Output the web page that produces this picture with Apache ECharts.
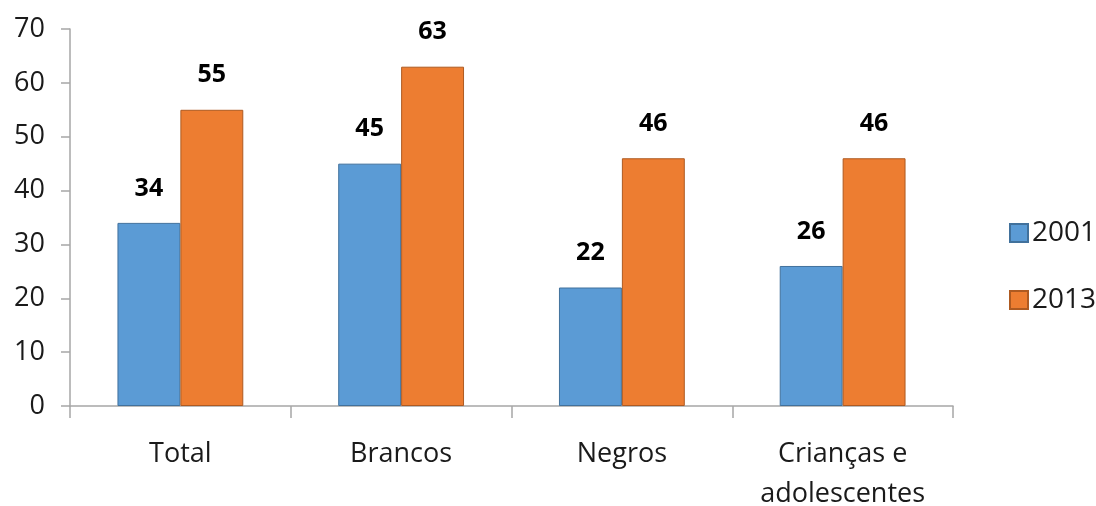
<!DOCTYPE html>
<html>
<head>
<meta charset="utf-8">
<script src="https://cdn.jsdelivr.net/npm/echarts@6/dist/echarts.min.js"></script>
<style>
  html, body { margin: 0; padding: 0; background: #ffffff; }
  #chart { width: 1096px; height: 506px; }
</style>
</head>
<body>
<div id="chart"></div>
<script>
// Categories along the x axis
const categories = ['Total', 'Brancos', 'Negros', 'Crianças e\nadolescentes'];
// Values per year
const values2001 = [34, 45, 22, 26];
const values2013 = [55, 63, 46, 46];
// Series names shown in the legend
const seriesNames = ['2001', '2013'];
// Y axis range
const yMin = 0, yMax = 70, yStep = 10;

const FONT = '"Open Sans", "Liberation Sans", sans-serif';
const AXIS_GRAY = '#a6a6a6';

const chart = echarts.init(document.getElementById('chart'), null, { renderer: 'canvas' });

const valueLabel = {
  show: true,
  position: 'top',
  distance: 22,
  fontFamily: FONT,
  fontSize: 25,
  fontWeight: 'bold',
  color: '#000000'
};

chart.setOption({
  animation: false,
  backgroundColor: '#ffffff',
  grid: { left: 70, right: 143, top: 29, bottom: 100, containLabel: false, outerBoundsMode: 'none' },
  legend: {
    orient: 'vertical',
    left: 1004,
    top: 214,
    icon: 'rect',
    itemWidth: 18,
    itemHeight: 18,
    itemGap: 39,
    textStyle: { fontFamily: FONT, fontSize: 28, color: '#1a1a1a', padding: [0, 0, 0, -1] },
    data: seriesNames
  },
  xAxis: {
    type: 'category',
    data: categories,
    axisLine: { show: true, lineStyle: { color: AXIS_GRAY, width: 1.5 } },
    axisTick: { show: true, length: 12, lineStyle: { color: AXIS_GRAY, width: 1.5 } },
    axisLabel: {
      margin: 28,
      fontFamily: FONT,
      fontSize: 27,
      lineHeight: 40,
      color: '#1a1a1a'
    },
    splitLine: { show: false }
  },
  yAxis: {
    type: 'value',
    min: yMin,
    max: yMax,
    interval: yStep,
    axisLine: { show: true, lineStyle: { color: AXIS_GRAY, width: 1.5 } },
    axisTick: { show: true, length: 9, lineStyle: { color: AXIS_GRAY, width: 1.5 } },
    axisLabel: {
      margin: 25,
      fontFamily: FONT,
      fontSize: 27,
      color: '#1a1a1a'
    },
    splitLine: { show: false }
  },
  series: [
    {
      name: seriesNames[0],
      type: 'bar',
      data: values2001,
      barGap: '0%',
      barCategoryGap: '43%',
      itemStyle: { color: '#5b9bd5', borderColor: '#41719c', borderWidth: 1 },
      label: valueLabel
    },
    {
      name: seriesNames[1],
      type: 'bar',
      data: values2013,
      barGap: '0%',
      barCategoryGap: '43%',
      itemStyle: { color: '#ed7d31', borderColor: '#ae5a21', borderWidth: 1 },
      label: valueLabel
    }
  ]
});
</script>
</body>
</html>
